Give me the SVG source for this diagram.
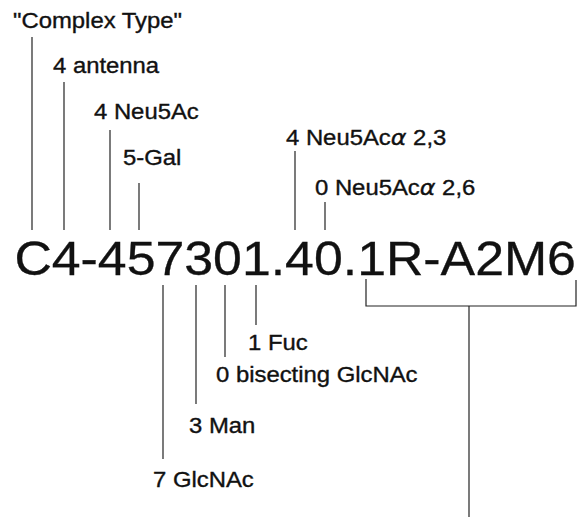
<svg xmlns="http://www.w3.org/2000/svg" width="577" height="517" viewBox="0 0 577 517">
<style>
  .lbl { font-family: "Liberation Sans", Arial, sans-serif; font-size: 21.5px; fill: #111; stroke: #111; stroke-width: 0.35; }
  .big { font-family: "Liberation Sans", Arial, sans-serif; font-size: 47.5px; fill: #111; stroke: #111; stroke-width: 0.3; }
  .al { font-family: "DejaVu Sans", sans-serif; font-style: italic; }
  .conn path { fill: none; stroke: #222; stroke-width: 1.2; }
</style>
<rect width="577" height="517" fill="#fff"/>
<g id="code"><text class="big" transform="translate(14.4,275) scale(1.091,1)">C4-457301.40.1R-A2M6</text></g>
<g id="complex-type"><text class="lbl" transform="translate(13,28) scale(1.11,1)">"Complex Type"</text></g>
<g id="antenna"><text class="lbl" transform="translate(53,73) scale(1.11,1)">4 antenna</text></g>
<g id="neu5ac"><text class="lbl" transform="translate(94,119) scale(1.11,1)">4 Neu5Ac</text></g>
<g id="gal"><text class="lbl" transform="translate(123,165) scale(1.11,1)">5-Gal</text></g>
<g id="neu5ac-23"><text class="lbl" transform="translate(286,145) scale(1.11,1)">4 Neu5Ac<tspan class="al">α</tspan> 2,3</text></g>
<g id="neu5ac-26"><text class="lbl" transform="translate(315,195) scale(1.11,1)">0 Neu5Ac<tspan class="al">α</tspan> 2,6</text></g>
<g id="fuc"><text class="lbl" transform="translate(248,350) scale(1.11,1)">1 Fuc</text></g>
<g id="bisecting"><text class="lbl" transform="translate(216,382) scale(1.11,1)">0 bisecting GlcNAc</text></g>
<g id="man"><text class="lbl" transform="translate(189,433) scale(1.11,1)">3 Man</text></g>
<g id="glcnac"><text class="lbl" transform="translate(153,487) scale(1.11,1)">7 GlcNAc</text></g>
<g id="connectors" class="conn">
  <path d="M32,37 V230"/>
  <path d="M64,82 V230"/>
  <path d="M110,130 V230"/>
  <path d="M139,183 V230"/>
  <path d="M295,151 V230"/>
  <path d="M325,202 V230"/>
  <path d="M163,285 V459"/>
  <path d="M196,285 V404"/>
  <path d="M225,285 V357"/>
  <path d="M256,285 V325"/>
  <path d="M366,279 V306 H576 V280"/>
  <path d="M469,306 V517"/>
</g>
</svg>
